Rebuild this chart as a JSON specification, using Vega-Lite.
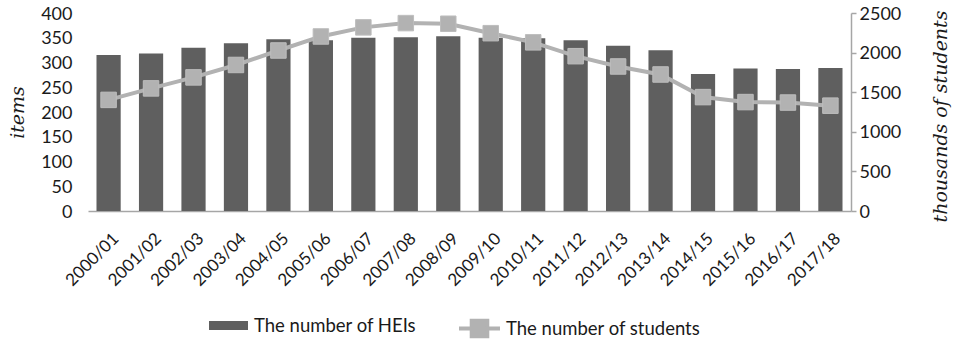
{
  "$schema": "https://vega.github.io/schema/vega-lite/v6.json",
  "width": 763,
  "height": 198,
  "autosize": {"type": "none"},
  "padding": {"left": 88, "top": 13, "right": 102, "bottom": 133},
  "background": "white",
  "config": {
    "view": {"stroke": null},
    "font": "Lato",
    "axis": {
      "grid": false,
      "labelFont": "Lato",
      "labelColor": "#1a1a1a",
      "titleFont": "DejaVu Serif",
      "titleFontStyle": "italic",
      "titleFontWeight": "normal",
      "titleColor": "#1a1a1a"
    },
    "legend": {
      "labelFont": "Lato",
      "labelFontSize": 18.5,
      "labelColor": "#1a1a1a",
      "labelLimit": 0,
      "padding": 0
    }
  },
  "data": {
    "values": [
      {"year": "2000/01", "heis": 315, "students": 1402.9},
      {"year": "2001/02", "heis": 318, "students": 1548.0},
      {"year": "2002/03", "heis": 330, "students": 1686.9},
      {"year": "2003/04", "heis": 339, "students": 1843.8},
      {"year": "2004/05", "heis": 347, "students": 2026.7},
      {"year": "2005/06", "heis": 345, "students": 2203.8},
      {"year": "2006/07", "heis": 350, "students": 2318.6},
      {"year": "2007/08", "heis": 351, "students": 2372.5},
      {"year": "2008/09", "heis": 353, "students": 2364.5},
      {"year": "2009/10", "heis": 350, "students": 2245.2},
      {"year": "2010/11", "heis": 349, "students": 2129.8},
      {"year": "2011/12", "heis": 345, "students": 1954.8},
      {"year": "2012/13", "heis": 334, "students": 1824.9},
      {"year": "2013/14", "heis": 325, "students": 1723.7},
      {"year": "2014/15", "heis": 277, "students": 1438.0},
      {"year": "2015/16", "heis": 288, "students": 1375.2},
      {"year": "2016/17", "heis": 287, "students": 1369.4},
      {"year": "2017/18", "heis": 289, "students": 1330.0}
    ]
  },
  "encoding": {
    "x": {
      "field": "year",
      "type": "nominal",
      "sort": null,
      "scale": {"paddingInner": 0.43, "paddingOuter": 0.2},
      "axis": {
        "title": null,
        "labelAngle": -45,
        "labelFontSize": 17,
        "labelPadding": 19,
        "labelOffset": 2,
        "ticks": false,
        "domainColor": "#a6a6a6",
        "domainWidth": 1.5
      }
    }
  },
  "layer": [
    {
      "mark": {"type": "bar"},
      "encoding": {
        "y": {
          "field": "heis",
          "type": "quantitative",
          "scale": {"domain": [0, 400]},
          "axis": {
            "title": "items",
            "values": [0, 50, 100, 150, 200, 250, 300, 350, 400],
            "domain": false,
            "ticks": false,
            "labelPadding": 16,
            "labelFontSize": 18,
            "labelOffset": 1,
            "titleFontSize": 19,
            "titleAngle": 270,
            "titleAlign": "center",
            "titleBaseline": "middle",
            "titleX": -71,
            "titleY": 99
          }
        },
        "fill": {
          "datum": "The number of HEIs",
          "type": "nominal",
          "scale": {"range": ["#5f5f5f"]},
          "legend": {
            "title": null,
            "orient": "none",
            "legendX": 121,
            "legendY": 293,
            "symbolType": "M-1,-0.23H1V0.23H-1Z",
            "symbolSize": 1521,
            "symbolStrokeWidth": 0,
            "labelOffset": 6
          }
        }
      }
    },
    {
      "encoding": {
        "y": {
          "field": "students",
          "type": "quantitative",
          "scale": {"domain": [0, 2500]},
          "axis": {
            "orient": "right",
            "title": "thousands of students",
            "values": [0, 500, 1000, 1500, 2000, 2500],
            "format": "d",
            "domainColor": "#a6a6a6",
            "domainWidth": 1.5,
            "tickColor": "#a6a6a6",
            "tickWidth": 1.5,
            "tickSize": 5,
            "labelPadding": 3,
            "labelFontSize": 18,
            "labelOffset": 1,
            "titleFontSize": 19,
            "titleAngle": 270,
            "titleAlign": "center",
            "titleBaseline": "middle",
            "titleX": 89,
            "titleY": 103
          }
        }
      },
      "layer": [
        {
          "mark": {"type": "line", "strokeWidth": 4},
          "encoding": {
            "stroke": {
              "datum": "The number of students",
              "type": "nominal",
              "scale": {"range": ["#b2b2b2"]},
              "legend": {
                "title": null,
                "orient": "none",
                "legendX": 369,
                "legendY": 293,
                "symbolType": "M-1,0H1M-0.38,-0.38H0.38V0.38H-0.38Z",
                "symbolSize": 1681,
                "symbolStrokeWidth": 4,
                "symbolFillColor": "#b2b2b2",
                "labelOffset": 4
              }
            }
          }
        },
        {
          "mark": {"type": "point", "shape": "square", "filled": true, "size": 240, "color": "#b2b2b2", "opacity": 1, "stroke": "#bdbdbd", "strokeWidth": 1}
        }
      ]
    }
  ],
  "resolve": {"scale": {"y": "independent", "fill": "independent", "stroke": "independent"}}
}
